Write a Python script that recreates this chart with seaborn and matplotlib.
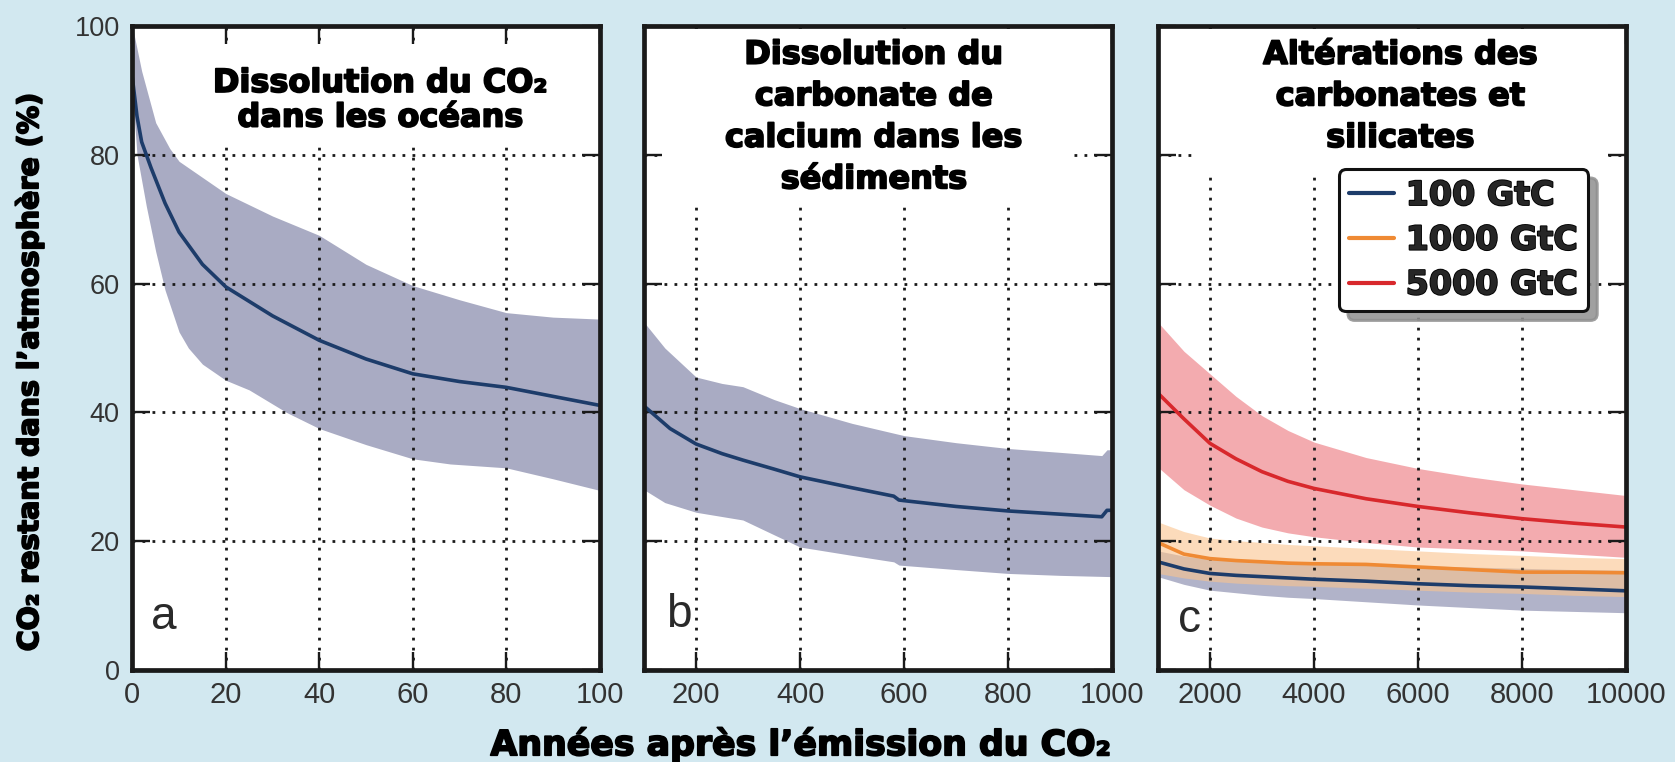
import numpy as np
import pandas as pd
import matplotlib
matplotlib.use("Agg")
import matplotlib.pyplot as plt
import matplotlib.patheffects as pe
from matplotlib.patches import Rectangle
import seaborn as sns

# ---------------- data ----------------
# Panel a: 0-100 years (ocean dissolution)
a_years = [0, 1, 2, 4, 7, 10, 15, 20, 30, 40, 50, 60, 70, 80, 90, 100]
a_mean = [92, 86, 82, 78, 72.5, 68, 63, 59.5, 55, 51.2, 48.3, 46, 44.8, 43.9, 42.5, 41.1]
a_up_years = [0, 2, 5, 8, 10, 15, 20, 30, 40, 50, 60, 70, 80, 90, 100]
a_upper = [100, 93, 85, 81, 79, 76.5, 74, 70.5, 67.5, 63, 59.7, 57.5, 55.5, 54.8, 54.5]
a_lo_years = [0, 1, 3, 5, 7, 10, 12, 15, 20, 25, 33, 40, 50, 60, 68, 80, 90, 100]
a_lower = [90, 80, 72, 65, 59, 52.5, 50, 47.5, 45, 43.5, 40, 37.5, 35, 32.8, 32, 31.4, 29.7, 27.9]

# Panel b: 100-1000 years (CaCO3 dissolution in sediments)
b_years = [100, 150, 200, 250, 290, 350, 400, 500, 580, 590, 600, 700, 800, 900, 980, 990, 1000]
b_mean = [41, 37.5, 35.1, 33.6, 32.6, 31.2, 30, 28.3, 27, 26.4, 26.3, 25.4, 24.7, 24.2, 23.8, 24.8, 24.8]
b_up_years = [100, 140, 200, 250, 290, 350, 400, 500, 600, 700, 800, 900, 980, 990, 1000]
b_upper = [54, 50, 45.5, 44.5, 44, 42, 40.6, 38.3, 36.4, 35.3, 34.4, 33.8, 33.3, 34.2, 34.2]
b_lo_years = [100, 140, 200, 290, 350, 400, 500, 580, 590, 700, 800, 900, 1000]
b_lower = [28, 26, 24.5, 23.3, 21, 19.1, 17.8, 16.8, 16.3, 15.6, 15, 14.7, 14.5]

# Panel c: 1000-10000 years (weathering), three emission pulses
c_years = [1000, 1500, 2000, 2500, 3000, 3500, 4000, 5000, 6000, 7000, 8000, 9000, 10000]
c_labels = ["100 GtC", "1000 GtC", "5000 GtC"]
c_mean_100 = [16.8, 15.7, 15.0, 14.7, 14.5, 14.3, 14.1, 13.8, 13.4, 13.1, 12.9, 12.6, 12.3]
c_upper_100 = [18.5, 17.7, 17.2, 17.0, 16.9, 16.7, 16.6, 16.4, 16.2, 16.0, 15.8, 15.6, 15.5]
c_lower_100 = [14.5, 13.3, 12.4, 12.0, 11.6, 11.3, 11.1, 10.6, 10.1, 9.7, 9.3, 9.1, 8.9]
c_mean_1000 = [19.8, 18.0, 17.3, 17.0, 16.8, 16.6, 16.5, 16.4, 16.0, 15.6, 15.2, 15.2, 15.1]
c_upper_1000 = [23, 21.5, 20.5, 20.1, 19.8, 19.5, 19.3, 18.9, 18.5, 18.1, 17.8, 17.5, 17.3]
c_lower_1000 = [15, 14.3, 13.8, 13.5, 13.3, 13.1, 13.0, 12.7, 12.4, 12.1, 11.9, 11.6, 11.4]
c_mean_5000 = [43, 39, 35.2, 32.8, 30.8, 29.3, 28.2, 26.6, 25.4, 24.4, 23.5, 22.8, 22.2]
c_upper_5000 = [54, 49.5, 46, 42.5, 39.5, 37.2, 35.4, 33, 31.3, 30, 28.9, 28, 27.1]
c_lower_5000 = [31.5, 28, 25.6, 23.6, 22.2, 21.3, 20.7, 19.8, 19.1, 18.8, 18.5, 18.0, 17.5]

# ---------------- style ----------------
BG = "#d2e8f0"
NAVY = "#1d3c6a"
ORANGE = "#ef8a34"
RED = "#d8282c"
BAND = "#a9abc3"
TICKC = "#333333"
HEAVY = [pe.withStroke(linewidth=1.3, foreground="black")]

sns.set_theme(style="ticks")
plt.rcParams["font.family"] = ["DejaVu Sans"]

fig = plt.figure(figsize=(16.75, 7.62), dpi=100, facecolor=BG)
bottom, height = 0.1207, 0.8451
ax_a = fig.add_axes([0.0790, bottom, 0.2790, height])
ax_b = fig.add_axes([0.3845, bottom, 0.2795, height])
ax_c = fig.add_axes([0.6913, bottom, 0.2795, height])

TITLE_KW = dict(fontsize=23, fontweight="bold", color="black", ha="center",
                va="center", zorder=6, path_effects=HEAVY)


def style_axes(ax, xlim, xticks, show_ylabels):
    ax.set_facecolor("white")
    ax.set_xlim(*xlim)
    ax.set_ylim(0, 100)
    ax.set_xticks(xticks)
    ax.set_yticks([0, 20, 40, 60, 80, 100])
    ax.set_axisbelow(False)
    ax.grid(True, color="#1a1a1a", linestyle=(0, (1, 2.6)), linewidth=2.0)
    ax.tick_params(direction="in", length=13, width=1.7, color="#1a1a1a",
                   top=True, right=True, labelcolor=TICKC)
    ax.tick_params(axis="x", labelsize=21, pad=8)
    ax.tick_params(axis="y", labelsize=19.5, pad=9)
    for lab in ax.get_xticklabels() + ax.get_yticklabels():
        lab.set_family("Liberation Sans")
    if not show_ylabels:
        ax.tick_params(labelleft=False)
    for sp in ax.spines.values():
        sp.set_linewidth(3.4)
        sp.set_color("#1a1a1a")
        sp.set_zorder(7)
    ax.set_xlabel("")
    ax.set_ylabel("")


def title_box(ax, x0, x1, y0, y1):
    ax.add_patch(Rectangle((x0, y0), x1 - x0, y1 - y0, transform=ax.transAxes,
                           facecolor="white", edgecolor="none", zorder=5))


def panel_letter(ax, letter, x, y):
    ax.text(x, y, letter, transform=ax.transAxes, fontsize=33, color="#2a2a2a",
            family="Liberation Sans", ha="left", va="center", zorder=6)


# ---------------- panel a ----------------
x_a = np.linspace(0, 100, 401)
up_a = np.interp(x_a, a_up_years, a_upper)
lo_a = np.interp(x_a, a_lo_years, a_lower)
ax_a.fill_between(x_a, lo_a, up_a, color=BAND, linewidth=0, zorder=1)
df_a = pd.DataFrame({"year": a_years, "pct": a_mean})
sns.lineplot(data=df_a, x="year", y="pct", ax=ax_a, color=NAVY, linewidth=2.6,
             zorder=3)
style_axes(ax_a, (0, 100), [0, 20, 40, 60, 80, 100], True)
title_box(ax_a, 0.1, 0.985, 0.816, 0.972)
ax_a.text(0.531, 0.884, "Dissolution du CO\u2082\ndans les océans",
          transform=ax_a.transAxes, linespacing=1.15, **TITLE_KW)
panel_letter(ax_a, "a", 0.04, 0.082)

# ---------------- panel b ----------------
x_b = np.linspace(100, 1000, 901)
up_b = np.interp(x_b, b_up_years, b_upper)
lo_b = np.interp(x_b, b_lo_years, b_lower)
ax_b.fill_between(x_b, lo_b, up_b, color=BAND, linewidth=0, zorder=1)
df_b = pd.DataFrame({"year": b_years, "pct": b_mean})
sns.lineplot(data=df_b, x="year", y="pct", ax=ax_b, color=NAVY, linewidth=2.6,
             zorder=3)
style_axes(ax_b, (100, 1000), [200, 400, 600, 800, 1000], False)
title_box(ax_b, 0.043, 0.916, 0.72, 0.995)
ax_b.text(0.491, 0.858,
          "Dissolution du\ncarbonate de\ncalcium dans les\nsédiments",
          transform=ax_b.transAxes, linespacing=1.44, **TITLE_KW)
panel_letter(ax_b, "b", 0.048, 0.085)

# ---------------- panel c ----------------
c_mean = {"100 GtC": c_mean_100, "1000 GtC": c_mean_1000, "5000 GtC": c_mean_5000}
c_upper = {"100 GtC": c_upper_100, "1000 GtC": c_upper_1000, "5000 GtC": c_upper_5000}
c_lower = {"100 GtC": c_lower_100, "1000 GtC": c_lower_1000, "5000 GtC": c_lower_5000}
line_colors = {"100 GtC": NAVY, "1000 GtC": ORANGE, "5000 GtC": RED}
band_style = {"100 GtC": ("#a9abc3", 0.9), "1000 GtC": ("#fbc48e", 0.6),
              "5000 GtC": ("#f08f95", 0.75)}

for lab in c_labels:
    col, alpha = band_style[lab]
    ax_c.fill_between(c_years, c_lower[lab], c_upper[lab], color=col, alpha=alpha,
                      linewidth=0, zorder=1)

df_c = pd.DataFrame({
    "year": c_years * 3,
    "pct": c_mean_100 + c_mean_1000 + c_mean_5000,
    "emission": [l for l in c_labels for _ in c_years],
})
sns.lineplot(data=df_c, x="year", y="pct", hue="emission", hue_order=c_labels,
             palette=line_colors, ax=ax_c, linewidth=2.6, zorder=3)
style_axes(ax_c, (1000, 10000), [2000, 4000, 6000, 8000, 10000], False)
title_box(ax_c, 0.075, 0.95, 0.772, 0.995)
ax_c.text(0.518, 0.89, "Altérations des\ncarbonates et\nsilicates",
          transform=ax_c.transAxes, linespacing=1.44, **TITLE_KW)
panel_letter(ax_c, "c", 0.043, 0.078)

handles, labels = ax_c.get_legend_handles_labels()
leg = ax_c.legend(handles, labels, loc="upper right", bbox_to_anchor=(0.919, 0.778),
                  borderaxespad=0, frameon=True, fancybox=True,
                  shadow={"ox": 6.5, "oy": -6.5, "color": "#8f8f8f", "alpha": 0.85},
                  prop={"size": 24, "weight": "bold"}, handlelength=1.35,
                  handletextpad=0.35, labelspacing=0.35, borderpad=0.3)
leg.set_zorder(8)
frame = leg.get_frame()
frame.set_edgecolor("#111111")
frame.set_linewidth(2.2)
frame.set_alpha(1)
for h in leg.get_lines():
    h.set_linewidth(3)
for t in leg.get_texts():
    t.set_path_effects(HEAVY)

# ---------------- shared labels ----------------
fig.text(0.0175, 0.512, "CO\u2082 restant dans l\u2019atmosphère (%)", rotation=90,
         ha="center", va="center", fontsize=20.5, fontweight="bold", color="black",
         path_effects=HEAVY)
fig.text(0.478, 0.023, "Années après l\u2019émission du CO\u2082", ha="center",
         va="center", fontsize=25, fontweight="bold", color="black",
         path_effects=HEAVY)

fig.savefig("out.png", dpi=100, facecolor=BG)
